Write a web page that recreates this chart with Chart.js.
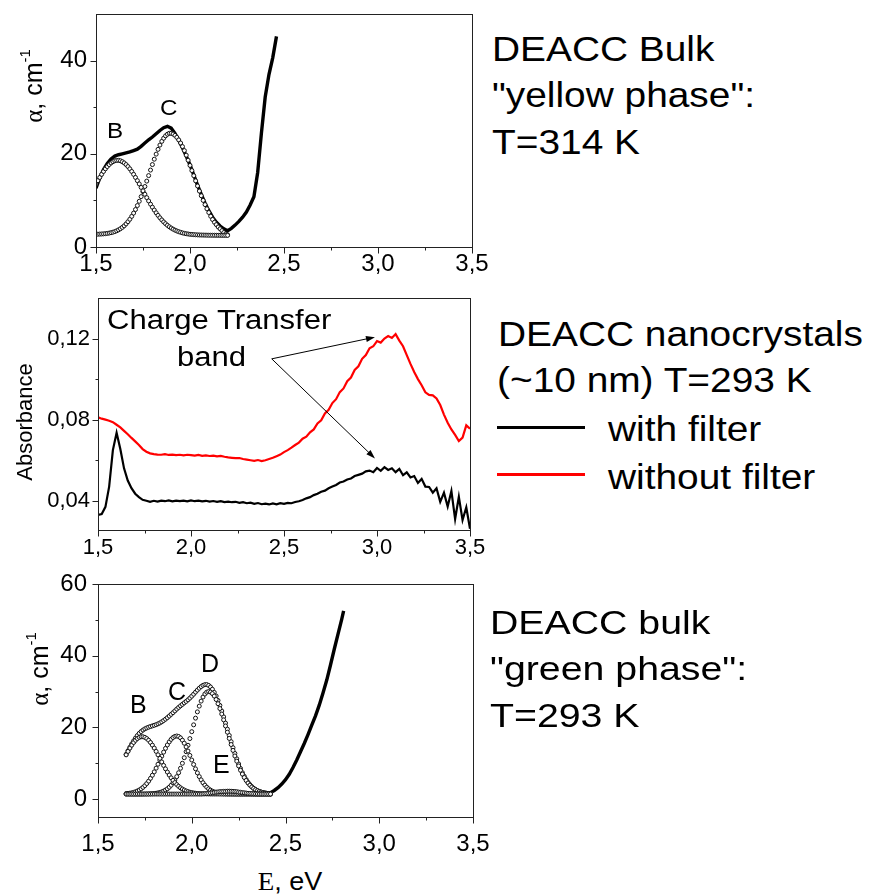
<!DOCTYPE html>
<html>
<head>
<meta charset="utf-8">
<title>DEACC absorption spectra</title>
<script src="https://cdn.jsdelivr.net/npm/chart.js@4.4.0/dist/chart.umd.min.js"></script>
<style>
  html, body { margin: 0; padding: 0; background: #fff; }
  #page { position: relative; width: 872px; height: 894px; overflow: hidden;
          font-family: "Liberation Sans", Arial, sans-serif; color: #000; }
  canvas { position: absolute; left: 0; }
  .t { position: absolute; white-space: nowrap; line-height: 1; transform-origin: 0 0; }
  .rot { position: absolute; white-space: nowrap; line-height: 1;
         transform: translate(-50%, -50%) rotate(-90deg); }
  .serif { font-family: "Liberation Serif", "Times New Roman", serif; }
  .sup { font-size: 0.6em; position: relative; top: -0.8em; }
  .key { position: absolute; height: 3px; width: 88px; left: 497px; }
</style>
</head>
<body>
<div id="page">
  <canvas id="c1" width="490" height="280" style="top:0px"></canvas>
  <canvas id="c2" width="490" height="270" style="top:290px"></canvas>
  <canvas id="c3" width="495" height="290" style="top:570px"></canvas>

  <!-- panel 1 text -->
  <div class="t" style="left:492px; top:31px; font-size:35px; transform:scaleX(1.11)">DEACC Bulk</div>
  <div class="t" style="left:492px; top:77px; font-size:35px; transform:scaleX(1.11)">"yellow phase":</div>
  <div class="t" style="left:492px; top:123.5px; font-size:35px; transform:scaleX(1.11)">T=314 K</div>
  <div class="t" style="left:107px; top:119.5px; font-size:22px; transform:scaleX(1.1)">B</div>
  <div class="t" style="left:160px; top:96.5px; font-size:22px; transform:scaleX(1.1)">C</div>
  <div class="rot" style="left:33px; top:86px; font-size:25px"><span class="serif">α</span>, cm<span class="sup">-1</span></div>

  <!-- panel 2 text -->
  <div class="t" style="left:498px; top:315.5px; font-size:35px; transform:scaleX(1.11)">DEACC nanocrystals</div>
  <div class="t" style="left:497px; top:362px; font-size:35px; transform:scaleX(1.11)">(~10 nm) T=293 K</div>
  <div class="t" style="left:608px; top:411px; font-size:35px; transform:scaleX(1.11)">with filter</div>
  <div class="t" style="left:608px; top:458.5px; font-size:35px; transform:scaleX(1.11)">without filter</div>
  <div class="key" style="top:426px; background:#000"></div>
  <div class="key" style="top:472.5px; background:#ff0000"></div>
  <div class="t" style="left:107px; top:307px; font-size:27px; transform:scaleX(1.15)">Charge Transfer</div>
  <div class="t" style="left:177px; top:344px; font-size:27px; transform:scaleX(1.15)">band</div>
  <div class="rot" style="left:25px; top:422px; font-size:22px">Absorbance</div>

  <!-- panel 3 text -->
  <div class="t" style="left:490px; top:605.5px; font-size:33px; transform:scaleX(1.19)">DEACC bulk</div>
  <div class="t" style="left:490px; top:652px; font-size:33px; transform:scaleX(1.19)">"green phase":</div>
  <div class="t" style="left:490px; top:699px; font-size:33px; transform:scaleX(1.19)">T=293 K</div>
  <div class="t" style="left:130px; top:692px; font-size:25px">B</div>
  <div class="t" style="left:168px; top:679px; font-size:25px">C</div>
  <div class="t" style="left:201px; top:651px; font-size:25px">D</div>
  <div class="t" style="left:213px; top:752px; font-size:25px">E</div>
  <div class="rot" style="left:39px; top:669px; font-size:25px"><span class="serif">α</span>, cm<span class="sup">-1</span></div>
  <div class="t" style="left:289.5px; top:869px; font-size:25px; transform-origin:50% 0; transform:translateX(-50%) scaleX(1.08)"><span class="serif">E</span>, eV</div>
</div>

<script>
// ---------- panel 1: DEACC bulk, yellow phase, 314 K ----------
const e1 = [1.50,1.51,1.52,1.53,1.54,1.55,1.56,1.57,1.58,1.59,
  1.60,1.61,1.62,1.63,1.64,1.65,1.66,1.67,1.68,1.69,
  1.70,1.71,1.72,1.73,1.74,1.75,1.76,1.77,1.78,1.79,
  1.80,1.81,1.82,1.83,1.84,1.85,1.86,1.87,1.88,1.89,
  1.90,1.91,1.92,1.93,1.94,1.95,1.96,1.97,1.98,1.99,
  2.00,2.01,2.02,2.03,2.04,2.05,2.06,2.07,2.08,2.09,
  2.10,2.11,2.12,2.13,2.14,2.15,2.16,2.17,2.18,2.19,
  2.20];
const bandB1 = [13.53,14.24,14.93,15.59,16.21,16.77,17.26,17.69,18.04,18.31,
  18.50,18.59,18.59,18.50,18.31,18.04,17.69,17.26,16.77,16.21,
  15.59,14.93,14.24,13.53,12.79,12.05,11.32,10.59,9.88,9.19,
  8.54,7.92,7.33,6.78,6.27,5.81,5.38,5.00,4.65,4.34,
  4.07,3.83,3.62,3.44,3.28,3.15,3.03,2.93,2.85,2.79,
  2.73,2.69,2.65,2.62,2.60,2.58,2.57,2.56,2.55,2.54,
  2.53,2.53,2.52,2.52,2.51,2.51,2.51,2.50,2.50,2.50,
  2.50];
const bandC1 = [2.74,2.75,2.77,2.79,2.82,2.86,2.92,2.99,3.07,3.18,
  3.31,3.48,3.68,3.92,4.21,4.55,4.96,5.43,5.96,6.58,
  7.27,8.04,8.89,9.81,10.81,11.87,12.98,14.14,15.32,16.51,
  17.69,18.84,19.93,20.95,21.87,22.67,23.34,23.85,24.20,24.39,
  24.39,24.24,23.95,23.53,22.98,22.32,21.55,20.69,19.70,18.62,
  17.50,16.40,15.30,14.20,13.10,12.00,11.00,10.00,9.10,8.20,
  7.40,6.60,5.90,5.30,4.80,4.30,3.90,3.50,3.10,2.80,
  2.60];
const eLine1 = [1.50,1.52,1.54,1.56,1.58,1.60,1.62,1.64,1.66,1.68,
  1.70,1.72,1.74,1.76,1.78,1.80,1.82,1.84,1.86,1.88,
  1.90,1.92,1.94,1.96,1.98,2.00,2.02,2.04,2.06,2.08,
  2.10,2.12,2.14,2.16,2.18,2.20,2.22,2.24,2.26,2.28,
  2.30,2.32,2.34,2.36,2.38,2.40,2.42,2.44,2.46];
const alpha1 = [12.6,14.8,16.6,17.9,18.9,19.5,19.8,20.0,20.2,20.4,
  20.7,21.0,21.6,22.3,23.0,23.6,24.3,25.0,25.6,25.9,
  25.5,24.4,22.9,21.3,19.5,17.6,15.5,13.3,11.3,9.4,
  7.8,6.4,5.3,4.5,3.9,3.5,4.0,4.7,5.5,6.4,
  7.5,9.0,10.8,16.0,24.5,32.2,37.0,40.6,45.2];

// ---------- panel 2: nanocrystals, 293 K ----------
const e2 = [1.50,1.52,1.54,1.56,1.58,1.60,1.62,1.64,1.66,1.68,
  1.70,1.72,1.74,1.76,1.78,1.80,1.82,1.84,1.86,1.88,
  1.90,1.92,1.94,1.96,1.98,2.00,2.02,2.04,2.06,2.08,
  2.10,2.12,2.14,2.16,2.18,2.20,2.22,2.24,2.26,2.28,
  2.30,2.32,2.34,2.36,2.38,2.40,2.42,2.44,2.46,2.48,
  2.50,2.52,2.54,2.56,2.58,2.60,2.62,2.64,2.66,2.68,
  2.70,2.72,2.74,2.76,2.78,2.80,2.82,2.84,2.86,2.88,
  2.90,2.92,2.94,2.96,2.98,3.00,3.02,3.04,3.06,3.08,
  3.10,3.12,3.14,3.16,3.18,3.20,3.22,3.24,3.26,3.28,
  3.30,3.32,3.34,3.36,3.38,3.40,3.42,3.44,3.46,3.48,
  3.50];
const withFilter = [.0330,.0335,.0370,.0470,.0650,.0735,.0655,.0560,.0500,.0462,
  .0435,.0418,.0405,.0400,.0395,.0400,.0396,.0401,.0398,.0402,
  .0397,.0401,.0398,.0401,.0397,.0402,.0398,.0401,.0397,.0400,
  .0396,.0399,.0395,.0398,.0394,.0396,.0393,.0395,.0390,.0393,
  .0388,.0391,.0385,.0389,.0383,.0386,.0382,.0387,.0383,.0388,
  .0385,.0390,.0388,.0394,.0398,.0404,.0412,.0418,.0428,.0435,
  .0445,.0450,.0462,.0470,.0478,.0490,.0495,.0505,.0510,.0522,
  .0528,.0534,.0545,.0549,.0541,.0562,.0548,.0566,.0552,.0560,
  .0541,.0557,.0526,.0540,.0515,.0522,.0488,.0508,.0470,.0468,
  .0440,.0462,.0395,.0440,.0372,.0448,.0310,.0420,.0305,.0368,
  .0262];
const withoutFilter = [.0812,.0805,.0800,.0795,.0788,.0775,.0762,.0745,.0728,.0710,
  .0693,.0675,.0655,.0642,.0634,.0630,.0628,.0627,.0630,.0626,
  .0628,.0625,.0627,.0624,.0627,.0625,.0623,.0626,.0622,.0624,
  .0621,.0623,.0619,.0621,.0617,.0614,.0612,.0610,.0611,.0606,
  .0603,.0600,.0597,.0601,.0596,.0600,.0606,.0612,.0620,.0628,
  .0640,.0650,.0662,.0675,.0687,.0706,.0716,.0738,.0752,.0781,
  .0797,.0831,.0849,.0882,.0901,.0936,.0954,.0990,.1008,.1045,
  .1063,.1100,.1119,.1152,.1162,.1188,.1180,.1200,.1212,.1203,
  .1222,.1190,.1162,.1118,.1075,.1035,.1000,.0970,.0935,.0922,
  .0920,.0905,.0872,.0825,.0785,.0752,.0725,.0695,.0712,.0772,
  .0755];
// "Charge Transfer band" arrows: tail, heads (eV, absorbance)
const arrowTail = [2.434, 0.1100];
const arrowHeads = [[2.989, 0.1207], [2.989, 0.0609]];

// ---------- panel 3: DEACC bulk, green phase, 293 K ----------
const e3 = [1.65,1.66,1.67,1.68,1.69,1.70,1.71,1.72,1.73,1.74,
  1.75,1.76,1.77,1.78,1.79,1.80,1.81,1.82,1.83,1.84,
  1.85,1.86,1.87,1.88,1.89,1.90,1.91,1.92,1.93,1.94,
  1.95,1.96,1.97,1.98,1.99,2.00,2.01,2.02,2.03,2.04,
  2.05,2.06,2.07,2.08,2.09,2.10,2.11,2.12,2.13,2.14,
  2.15,2.16,2.17,2.18,2.19,2.20,2.21,2.22,2.23,2.24,
  2.25,2.26,2.27,2.28,2.29,2.30,2.31,2.32,2.33,2.34,
  2.35,2.36,2.37,2.38,2.39,2.40,2.41,2.42];
const fitSum3 = [12.48,13.48,14.47,15.40,16.25,17.04,17.74,18.34,18.84,19.26,
  19.59,19.85,20.06,20.25,20.41,20.58,20.76,20.99,21.24,21.55,
  21.91,22.29,22.71,23.16,23.64,24.11,24.60,25.10,25.57,26.01,
  26.42,26.84,27.24,27.69,28.17,28.70,29.26,29.84,30.40,30.93,
  31.38,31.74,31.94,31.94,31.71,31.27,30.63,29.77,28.75,27.51,
  26.13,24.56,22.94,21.21,19.50,17.75,16.02,14.34,12.73,11.23,
  9.80,8.54,7.37,6.37,5.47,4.68,4.03,3.48,3.04,2.67,
  2.37,2.14,1.96,1.82,1.71,1.62,1.56,1.52];
const bandB3 = [12.34,13.30,14.22,15.05,15.78,16.40,16.88,17.21,17.38,17.38,
  17.21,16.88,16.40,15.78,15.05,14.22,13.30,12.34,11.35,10.36,
  9.38,8.43,7.53,6.69,5.92,5.22,4.59,4.04,3.56,3.15,
  2.80,2.52,2.27,2.08,1.92,1.80,1.70,1.62,1.56,1.52,
  1.49,1.47,1.45,1.44,1.43,1.42,1.42,1.41,1.41,1.41,
  1.40,1.40,1.40,1.40,1.40,1.40,1.40,1.40,1.40,1.40,
  1.40,1.40,1.40,1.40,1.40,1.40,1.40,1.40,1.40,1.40,
  1.40,1.40,1.40,1.40,1.40,1.40,1.40,1.40];
const bandC3 = [1.53,1.58,1.65,1.75,1.87,2.04,2.26,2.53,2.86,3.27,
  3.76,4.34,5.01,5.79,6.65,7.60,8.63,9.72,10.84,11.97,
  13.09,14.14,15.11,15.96,16.66,17.17,17.49,17.60,17.46,17.07,
  16.43,15.58,14.55,13.40,12.17,10.90,9.65,8.44,7.31,6.28,
  5.36,4.56,3.88,3.32,2.86,2.49,2.20,1.98,1.81,1.69,
  1.60,1.53,1.49,1.46,1.44,1.43,1.42,1.41,1.40,1.40,
  1.40,1.40,1.40,1.40,1.40,1.40,1.40,1.40,1.40,1.40,
  1.40,1.40,1.40,1.40,1.40,1.40,1.40,1.40];
const bandD3 = [1.40,1.40,1.40,1.40,1.40,1.40,1.40,1.40,1.40,1.41,
  1.42,1.43,1.45,1.48,1.51,1.56,1.63,1.73,1.85,2.02,
  2.24,2.52,2.87,3.31,3.86,4.52,5.32,6.26,7.35,8.59,
  9.99,11.54,13.22,15.01,16.88,18.80,20.71,22.58,24.33,25.93,
  27.33,28.46,29.31,29.83,30.00,29.86,29.43,28.73,27.78,26.61,
  25.25,23.73,22.10,20.40,18.66,16.92,15.22,13.58,12.03,10.58,
  9.25,8.04,6.97,6.02,5.19,4.48,3.88,3.38,2.96,2.62,
  2.34,2.12,1.95,1.81,1.70,1.62,1.56,1.52];
const bandE3 = [1.40,1.40,1.40,1.40,1.40,1.40,1.40,1.40,1.40,1.40,
  1.40,1.40,1.40,1.40,1.40,1.40,1.40,1.40,1.40,1.40,
  1.40,1.40,1.40,1.40,1.40,1.40,1.40,1.40,1.40,1.40,
  1.40,1.40,1.40,1.40,1.40,1.40,1.40,1.40,1.40,1.40,
  1.40,1.45,1.50,1.55,1.62,1.70,1.78,1.85,1.95,2.00,
  2.08,2.10,2.15,2.15,2.20,2.20,2.18,2.15,2.10,2.05,
  1.95,1.90,1.80,1.75,1.68,1.60,1.55,1.50,1.48,1.45,
  1.42,1.40,1.40,1.40,1.40,1.40,1.40,1.40];
const eLine3 = [2.42,2.44,2.46,2.48,2.50,2.52,2.54,2.56,2.58,2.60,
  2.62,2.64,2.66,2.68,2.70,2.72,2.74,2.76,2.78,2.80,2.81];
const alpha3 = [1.8,2.4,3.2,4.2,5.4,6.9,8.8,10.9,13.2,15.5,
  18.0,20.6,23.2,26.2,29.6,33.2,37.4,41.8,46.0,50.2,52.5];

// ---------- tick values ----------
const xMajor = [1.5, 2.0, 2.5, 3.0, 3.5];
const xMinor = [1.75, 2.25, 2.75, 3.25];
const y1Major = [0, 20, 40], y1Minor = [10, 30];
const y2Major = [0.04, 0.08, 0.12], y2Minor = [0.06, 0.10];
const y3Major = [0, 20, 40, 60], y3Minor = [10, 30, 50];

Chart.defaults.font.family = '"Liberation Sans", Arial, sans-serif';
Chart.defaults.color = '#000';

const pts = (xs, ys) => xs.map((x, i) => ({ x: x, y: ys[i] }));
const comma = (v, d) => Number(v).toFixed(d).replace('.', ',');

function circles(xs, ys) {
  return { data: pts(xs, ys), showLine: false, pointRadius: 2, pointBorderWidth: 1,
           pointBackgroundColor: '#fff', pointBorderColor: '#111', order: 1 };
}
function line(xs, ys, color, width) {
  return { data: pts(xs, ys), showLine: true, pointRadius: 0, borderColor: color,
           borderWidth: width, tension: 0, order: 2 };
}
// no label overhang padding: the plot box must sit exactly where it is put
function noPad(s) {
  s.paddingTop = 0; s.paddingBottom = 0; s.paddingLeft = 0; s.paddingRight = 0;
}

// box round the plot area, outward major and minor ticks
function frameTicks(t) {
  return {
    id: 'frameTicks',
    afterDatasetsDraw(chart) {
      const ctx = chart.ctx, a = chart.chartArea, x = chart.scales.x, y = chart.scales.y;
      const l = Math.round(a.left) + 0.5, b = Math.round(a.bottom) + 0.5;
      ctx.save();
      ctx.strokeStyle = '#222';
      ctx.lineWidth = 1;
      ctx.strokeRect(l, Math.round(a.top) + 0.5, Math.round(a.right - a.left), Math.round(a.bottom - a.top));
      ctx.beginPath();
      t.xMajor.forEach(v => { const p = Math.round(x.getPixelForValue(v)) + 0.5; ctx.moveTo(p, b); ctx.lineTo(p, b + 6); });
      t.xMinor.forEach(v => { const p = Math.round(x.getPixelForValue(v)) + 0.5; ctx.moveTo(p, b); ctx.lineTo(p, b + 3); });
      t.yMajor.forEach(v => { const p = Math.round(y.getPixelForValue(v)) + 0.5; ctx.moveTo(l, p); ctx.lineTo(l - 6, p); });
      t.yMinor.forEach(v => { const p = Math.round(y.getPixelForValue(v)) + 0.5; ctx.moveTo(l, p); ctx.lineTo(l - 3, p); });
      ctx.stroke();
      ctx.restore();
    }
  };
}

const arrows = {
  id: 'arrows',
  afterDatasetsDraw(chart) {
    const ctx = chart.ctx, x = chart.scales.x, y = chart.scales.y;
    const x0 = x.getPixelForValue(arrowTail[0]), y0 = y.getPixelForValue(arrowTail[1]);
    ctx.save();
    ctx.strokeStyle = '#000';
    ctx.fillStyle = '#000';
    ctx.lineWidth = 1;
    arrowHeads.forEach(h => {
      const x1 = x.getPixelForValue(h[0]), y1 = y.getPixelForValue(h[1]);
      const ang = Math.atan2(y1 - y0, x1 - x0);
      ctx.beginPath();
      ctx.moveTo(x0, y0);
      ctx.lineTo(x1 - 6 * Math.cos(ang), y1 - 6 * Math.sin(ang));
      ctx.stroke();
      ctx.beginPath();
      ctx.moveTo(x1, y1);
      ctx.lineTo(x1 - 9 * Math.cos(ang) + 3 * Math.sin(ang), y1 - 9 * Math.sin(ang) - 3 * Math.cos(ang));
      ctx.lineTo(x1 - 9 * Math.cos(ang) - 3 * Math.sin(ang), y1 - 9 * Math.sin(ang) + 3 * Math.cos(ang));
      ctx.closePath();
      ctx.fill();
    });
    ctx.restore();
  }
};

function makeChart(id, datasets, c, extra) {
  return new Chart(document.getElementById(id), {
    type: 'scatter',
    data: { datasets: datasets },
    options: {
      responsive: false,
      animation: false,
      events: [],
      layout: { autoPadding: false, padding: { left: 0, top: c.padTop, right: c.padRight, bottom: 0 } },
      plugins: { legend: { display: false }, tooltip: { enabled: false } },
      scales: {
        x: {
          type: 'linear', min: 1.5, max: 3.5,
          afterFit: s => { s.height = c.xHeight; noPad(s); },
          afterBuildTicks: s => { s.ticks = xMajor.map(v => ({ value: v })); },
          grid: { display: false, drawTicks: false },
          border: { display: false },
          ticks: { font: { size: c.xFont }, padding: c.xPad, maxRotation: 0, autoSkip: false,
                    callback: v => comma(v, 1) }
        },
        y: {
          type: 'linear', min: c.yMin, max: c.yMax,
          afterFit: s => { s.width = c.yWidth; noPad(s); },
          afterBuildTicks: s => { s.ticks = c.yMajor.map(v => ({ value: v })); },
          grid: { display: false, drawTicks: false },
          border: { display: false },
          ticks: { font: { size: c.yFont }, padding: c.yPad, autoSkip: false,
                   callback: v => c.yDec ? comma(v, c.yDec) : String(v) }
        }
      }
    },
    plugins: [frameTicks({ xMajor: xMajor, xMinor: xMinor, yMajor: c.yMajor, yMinor: c.yMinor })].concat(extra || [])
  });
}

makeChart('c1', [
  circles(e1, bandB1),
  circles(e1, bandC1),
  line(eLine1, alpha1, '#000', 3.4)
], { padTop: 14, padRight: 18, xHeight: 33, yWidth: 96, yMin: 0, yMax: 50,
     yMajor: y1Major, yMinor: y1Minor, xFont: 24, yFont: 24, xPad: 3, yPad: 9, yDec: 0 });

makeChart('c2', [
  line(e2, withFilter, '#000', 2.2),
  line(e2, withoutFilter, '#ff0000', 2.2)
], { padTop: 8, padRight: 20, xHeight: 30, yWidth: 98, yMin: 0.0256, yMax: 0.14,
     yMajor: y2Major, yMinor: y2Minor, xFont: 22, yFont: 22, xPad: 5, yPad: 8, yDec: 2 }, [arrows]);

makeChart('c3', [
  circles(e3, bandE3),
  circles(e3, bandB3),
  circles(e3, bandC3),
  circles(e3, bandD3),
  circles(e3, fitSum3),
  line(eLine3, alpha3, '#000', 3.4)
], { padTop: 14, padRight: 22, xHeight: 43, yWidth: 98, yMin: -5, yMax: 60,
     yMajor: y3Major, yMinor: y3Minor, xFont: 24, yFont: 24, xPad: 13, yPad: 11, yDec: 0 });
</script>
</body>
</html>
